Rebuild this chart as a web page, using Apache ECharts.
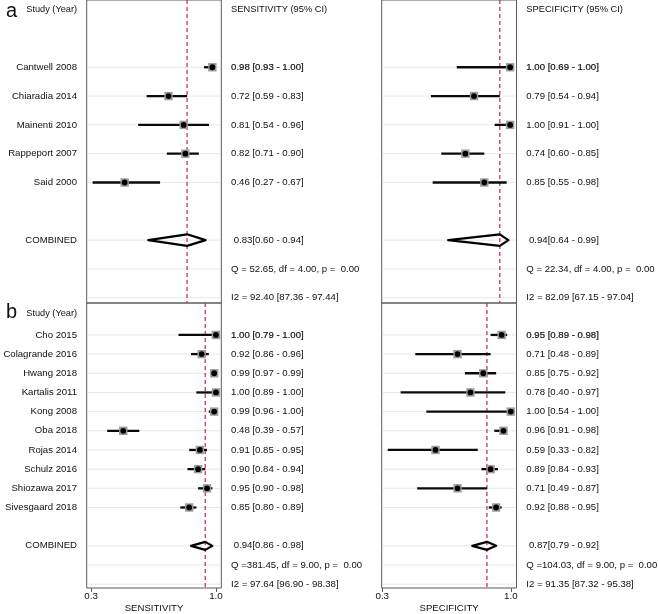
<!DOCTYPE html>
<html>
<head>
<meta charset="utf-8">
<script src="https://cdn.jsdelivr.net/npm/echarts@6/dist/echarts.min.js"></script>
<style>
html,body{margin:0;padding:0;background:#fff;}
#chart{width:658px;height:614px;}
</style>
</head>
<body>
<div id="chart"></div>
<script>
// ---------- DATA ----------
const studiesA = ['Cantwell 2008', 'Chiaradia 2014', 'Mainenti 2010', 'Rappeport 2007', 'Said 2000'];
const sensA    = [0.98, 0.72, 0.81, 0.82, 0.46];
const sensALo  = [0.93, 0.59, 0.54, 0.71, 0.27];
const sensAHi  = [1.00, 0.83, 0.96, 0.90, 0.67];
const specA    = [1.00, 0.79, 1.00, 0.74, 0.85];
const specALo  = [0.69, 0.54, 0.91, 0.60, 0.55];
const specAHi  = [1.00, 0.94, 1.00, 0.85, 0.98];
const pooledSensA = [0.83, 0.60, 0.94];
const pooledSpecA = [0.94, 0.64, 0.99];
const statsSensA = ['Q = 52.65, df = 4.00, p =  0.00', 'I2 = 92.40 [87.36 - 97.44]'];
const statsSpecA = ['Q = 22.34, df = 4.00, p =  0.00', 'I2 = 82.09 [67.15 - 97.04]'];

const studiesB = ['Cho 2015', 'Colagrande 2016', 'Hwang 2018', 'Kartalis 2011', 'Kong 2008',
                  'Oba 2018', 'Rojas 2014', 'Schulz 2016', 'Shiozawa 2017', 'Sivesgaard 2018'];
const sensB    = [1.00, 0.92, 0.99, 1.00, 0.99, 0.48, 0.91, 0.90, 0.95, 0.85];
const sensBLo  = [0.79, 0.86, 0.97, 0.89, 0.96, 0.39, 0.85, 0.84, 0.90, 0.80];
const sensBHi  = [1.00, 0.96, 0.99, 1.00, 1.00, 0.57, 0.95, 0.94, 0.98, 0.89];
const specB    = [0.95, 0.71, 0.85, 0.78, 1.00, 0.96, 0.59, 0.89, 0.71, 0.92];
const specBLo  = [0.89, 0.48, 0.75, 0.40, 0.54, 0.91, 0.33, 0.84, 0.49, 0.88];
const specBHi  = [0.98, 0.89, 0.92, 0.97, 1.00, 0.98, 0.82, 0.93, 0.87, 0.95];
const pooledSensB = [0.94, 0.86, 0.98];
const pooledSpecB = [0.87, 0.79, 0.92];
const statsSensB = ['Q =381.45, df = 9.00, p =  0.00', 'I2 = 97.64 [96.90 - 98.38]'];
const statsSpecB = ['Q =104.03, df = 9.00, p =  0.00', 'I2 = 91.35 [87.32 - 95.38]'];

const xTicks = [0.3, 1.0];
const headerStudy = 'Study (Year)';
const headerSens = 'SENSITIVITY (95% CI)';
const headerSpec = 'SPECIFICITY (95% CI)';

// ---------- STYLE ----------
const FONT = '"Liberation Sans", Arial, sans-serif';
const FS = 9.6;
const TXT = '#0f0f0f';
const BORDER = '#5a5a5a';
const GRIDLINE = '#e1eaed';
const DASH = '#c9375c';

const f2 = v => v.toFixed(2);
const ciText = (v, lo, hi) => f2(v) + ' [' + f2(lo) + ' - ' + f2(hi) + ']';
const pooledText = p => ' ' + f2(p[0]) + '[' + f2(p[1]) + ' - ' + f2(p[2]) + ']';

// ---------- BUILDERS ----------
const grids = [], xAxes = [], yAxes = [], series = [];

function addPanel(cfg) {
  const gi = grids.length;
  grids.push({ left: cfg.left, width: cfg.width, top: cfg.top, height: cfg.height,
               show: true, borderColor: BORDER, borderWidth: 1, backgroundColor: 'transparent' });
  const xa = { type: 'value', gridIndex: gi, min: cfg.xmin, max: cfg.xmax, position: 'bottom',
               splitLine: { show: false }, axisLine: { show: false, onZero: false } };
  if (cfg.axisName) {
    Object.assign(xa, {
      show: true,
      axisTick: { show: true, customValues: xTicks, length: 4, lineStyle: { color: BORDER } },
      axisLabel: { show: true, customValues: xTicks, formatter: v => v.toFixed(1),
                   fontFamily: FONT, fontSize: 9.8, color: TXT, margin: 3 },
      name: cfg.axisName, nameLocation: 'middle', nameGap: 15,
      nameTextStyle: { fontFamily: FONT, fontSize: 9.6, color: TXT }
    });
  } else {
    Object.assign(xa, { show: false });
  }
  xAxes.push(xa);
  yAxes.push({ type: 'value', gridIndex: gi, inverse: true, min: cfg.ymin, max: cfg.ymax, show: false,
               axisLine: { onZero: false }, splitLine: { show: false } });

  const est = cfg.est, lo = cfg.lo, hi = cfg.hi, pooled = cfg.pooled;
  const firstRow = cfg.firstRow;
  const rowOf = i => firstRow + i;
  const combRow = firstRow + est.length + 1;

  // light horizontal row lines
  const lineRows = est.map((_, i) => rowOf(i)).concat([combRow, combRow + 1, combRow + 2]);
  series.push({
    type: 'custom', xAxisIndex: gi, yAxisIndex: gi, clip: false, silent: true, z: 1,
    data: lineRows.map(r => [0, r]),
    renderItem: (params, api) => {
      const cs = params.coordSys;
      const y = api.coord([cfg.xmin, api.value(1)])[1];
      return { type: 'line', shape: { x1: cs.x + 1, y1: y, x2: cs.x + cs.width - 1, y2: y },
               style: { stroke: GRIDLINE, lineWidth: 1 } };
    }
  });

  // pooled dashed reference line + diamond
  series.push({
    type: 'custom', xAxisIndex: gi, yAxisIndex: gi, clip: false, silent: true, z: 3,
    data: [[pooled[0], pooled[1], pooled[2], combRow]],
    renderItem: (params, api) => {
      const cs = params.coordSys;
      const row = api.value(3);
      const pc = api.coord([api.value(0), row]);
      const pl = api.coord([api.value(1), row]);
      const ph = api.coord([api.value(2), row]);
      const h = cfg.diamondH;
      return { type: 'group', children: [
        { type: 'line', shape: { x1: pc[0], y1: cs.y, x2: pc[0], y2: cs.y + cs.height },
          style: { stroke: DASH, lineWidth: 1.3, lineDash: [4, 3] } },
        { type: 'polygon', shape: { points: [[pl[0], pc[1]], [pc[0], pc[1] - h], [ph[0], pc[1]], [pc[0], pc[1] + h]] },
          style: { fill: 'none', stroke: '#000', lineWidth: 2.2, lineJoin: 'round' } }
      ]};
    }
  });

  // study CIs and markers
  series.push({
    type: 'custom', xAxisIndex: gi, yAxisIndex: gi, clip: false, silent: true, z: 4,
    data: est.map((v, i) => [v, lo[i], hi[i], rowOf(i)]),
    renderItem: (params, api) => {
      const row = api.value(3);
      const pc = api.coord([api.value(0), row]);
      const pl = api.coord([api.value(1), row]);
      const ph = api.coord([api.value(2), row]);
      return { type: 'group', children: [
        { type: 'line', shape: { x1: pl[0], y1: pc[1], x2: ph[0], y2: pc[1] },
          style: { stroke: '#0a0a0a', lineWidth: 2.3 } },
        { type: 'rect', shape: { x: pc[0] - 4.2, y: pc[1] - 4.2, width: 8.4, height: 8.4 },
          style: { fill: '#9c9c9c' } },
        { type: 'circle', shape: { cx: pc[0], cy: pc[1], r: 2.9 }, style: { fill: '#000' } }
      ]};
    }
  });

  // text columns
  function textSeries(items, side) {
    series.push({
      type: 'custom', xAxisIndex: gi, yAxisIndex: gi, clip: false, silent: true, z: 5,
      data: items.map(it => [0, it.row]),
      renderItem: (params, api) => {
        const cs = params.coordSys;
        const it = items[params.dataIndex];
        const y = api.coord([cfg.xmin, api.value(1)])[1];
        const x = side === 'left' ? cs.x - 9.7 : cs.x + cs.width + 9.8;
        const st = { text: it.text, x: x, y: y, align: side === 'left' ? 'right' : 'left',
                     verticalAlign: 'middle', fontFamily: FONT, fontSize: it.fs || FS, fill: TXT };
        if (it.heavy) { st.stroke = TXT; st.lineWidth = 0.2; }
        return { type: 'text', style: st };
      }
    });
  }

  const right = [];
  if (cfg.header) right.push({ row: cfg.headerRow, text: cfg.header, fs: 9.3 });
  est.forEach((v, i) => right.push({ row: rowOf(i), text: ciText(v, lo[i], hi[i]), heavy: i === 0 }));
  right.push({ row: combRow, text: pooledText(pooled) });
  right.push({ row: combRow + 1, text: cfg.stats[0] });
  right.push({ row: combRow + 2, text: cfg.stats[1] });
  textSeries(right, 'right');

  if (cfg.studies) {
    const left = [{ row: cfg.headerRow, text: headerStudy, fs: 9.2 }];
    cfg.studies.forEach((s, i) => left.push({ row: rowOf(i), text: s }));
    left.push({ row: combRow, text: 'COMBINED' });
    textSeries(left, 'left');
  }
}

// row geometry
const A_ROW0 = 7.7, A_STEP = 29, A_TOP = -2, A_BOT = 303;
const B_ROW0 = 315.9, B_STEP = 19.41, B_TOP = 303, B_BOT = 591.5;
const aY = { top: A_TOP, height: A_BOT - A_TOP, ymin: (A_TOP - A_ROW0) / A_STEP, ymax: (A_BOT - A_ROW0) / A_STEP };
const bY = { top: B_TOP, height: B_BOT - B_TOP, ymin: (B_TOP - B_ROW0) / B_STEP, ymax: (B_BOT - B_ROW0) / B_STEP };

addPanel(Object.assign({ left: 86.7, width: 134.6, xmin: 0.235, xmax: 1.033, firstRow: 2, headerRow: 0,
  est: sensA, lo: sensALo, hi: sensAHi, pooled: pooledSensA, stats: statsSensA,
  studies: studiesA, header: headerSens, diamondH: 5.8 }, aY));
addPanel(Object.assign({ left: 381.7, width: 134.8, xmin: 0.254, xmax: 1.037, firstRow: 2, headerRow: 0,
  est: specA, lo: specALo, hi: specAHi, pooled: pooledSpecA, stats: statsSpecA,
  header: headerSpec, diamondH: 5.8 }, aY));
addPanel(Object.assign({ left: 86.7, width: 134.6, xmin: 0.275, xmax: 1.030, firstRow: 1, headerRow: -0.12,
  est: sensB, lo: sensBLo, hi: sensBHi, pooled: pooledSensB, stats: statsSensB,
  studies: studiesB, diamondH: 4, axisName: 'SENSITIVITY' }, bY));
addPanel(Object.assign({ left: 381.7, width: 134.8, xmin: 0.297, xmax: 1.031, firstRow: 1, headerRow: -0.12,
  est: specB, lo: specBLo, hi: specBHi, pooled: pooledSpecB, stats: statsSpecB,
  diamondH: 4, axisName: 'SPECIFICITY' }, bY));

const chart = echarts.init(document.getElementById('chart'), null, { renderer: 'canvas' });
chart.setOption({
  animation: false,
  backgroundColor: '#ffffff',
  title: [
    { text: 'a', left: 1, top: -4, textStyle: { fontFamily: FONT, fontSize: 20, fontWeight: 'normal', color: TXT } },
    { text: 'b', left: 1, top: 297, textStyle: { fontFamily: FONT, fontSize: 20, fontWeight: 'normal', color: TXT } }
  ],
  grid: grids,
  xAxis: xAxes,
  yAxis: yAxes,
  series: series
});
</script>
</body>
</html>
